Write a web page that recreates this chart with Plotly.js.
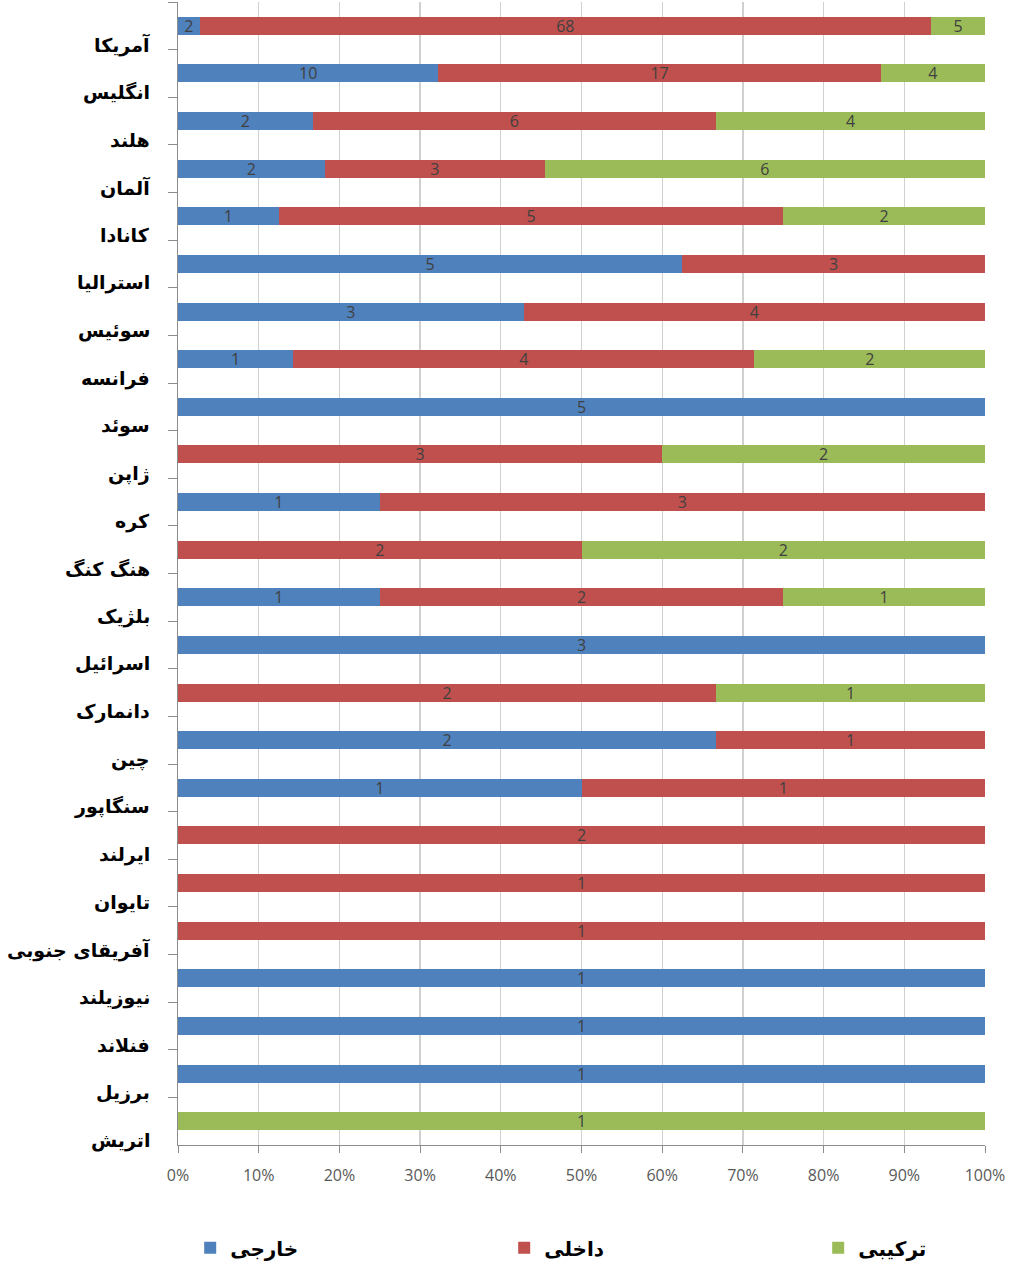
<!DOCTYPE html>
<html>
<head>
<meta charset="utf-8">
<script src="https://cdn.plot.ly/plotly-3.0.1.min.js"></script>
<style>html,body{margin:0;padding:0;background:#fff;}#chart{width:1019px;height:1266px;}</style>
</head>
<body>
<div id="chart"></div>
<script>
const countries = ["آمریکا","انگلیس","هلند","آلمان","کانادا","استرالیا","سوئیس","فرانسه","سوئد","ژاپن","کره","هنگ کنگ","بلژیک","اسرائیل","دانمارک","چین","سنگاپور","ایرلند","تایوان","آفریقای جنوبی","نیوزیلند","فنلاند","برزیل","اتریش"];
const foreign  = [2,10,2,2,1,5,3,1,5,0,1,0,1,3,0,2,1,0,0,0,1,1,1,0];
const domestic = [68,17,6,3,5,3,4,4,0,3,3,2,2,0,2,1,1,2,1,1,0,0,0,0];
const combined = [5,4,4,6,2,0,0,2,0,2,0,2,1,0,1,0,0,0,0,0,0,0,0,1];
const seriesNames = ["خارجی","داخلی","ترکیبی"];
const seriesColors = ["#4F81BD","#C0504D","#9BBB59"];
const xTickVals = [0,10,20,30,40,50,60,70,80,90,100];

const series = [foreign, domestic, combined];
const traces = series.map((vals, i) => ({
  type: 'bar',
  orientation: 'h',
  name: seriesNames[i],
  y: countries,
  x: vals,
  text: vals.map(v => v === 0 ? '' : String(v)),
  textposition: 'inside',
  insidetextanchor: 'middle',
  textangle: 0,
  constraintext: 'none',
  textfont: {family: 'Open Sans, Liberation Sans, sans-serif', size: 16, color: '#404040'},
  marker: {color: seriesColors[i], line: {width: 0}},
  hoverinfo: 'x+y+name'
}));

const annotations = countries.map(c => ({
  xref: 'paper', yref: 'y', x: -0.032, y: c, yshift: -19,
  xanchor: 'right', yanchor: 'middle', showarrow: false,
  text: '<b>' + c + '</b>',
  font: {family: 'DejaVu Sans, sans-serif', size: 19, color: '#000'}
}));

const layout = {
  width: 1019, height: 1266,
  margin: {l: 178, r: 34, t: 2, b: 121, autoexpand: false},
  paper_bgcolor: '#fff', plot_bgcolor: '#fff',
  barmode: 'stack', barnorm: 'percent', bargap: 0.62,
  showlegend: true,
  legend: {
    orientation: 'h', x: -0.001, y: -0.09, xanchor: 'left', yanchor: 'middle',
    traceorder: 'normal', entrywidth: 256, entrywidthmode: 'pixels',
    indentation: 13,
    font: {family: 'DejaVu Sans, sans-serif', size: 20, color: '#000', weight: 'bold'},
    itemwidth: 30
  },
  xaxis: {
    range: [0, 100], tickvals: xTickVals, ticktext: xTickVals.map(v => v + '%'),
    showgrid: true, gridcolor: '#d0d0d0', gridwidth: 1.3,
    showline: true, linecolor: '#8c8c8c', linewidth: 1.3,
    ticks: 'outside', ticklen: 7, tickcolor: '#8c8c8c',
    ticklabelstandoff: 8,
    tickfont: {family: 'Open Sans, Liberation Sans, sans-serif', size: 16, color: '#595959'},
    zeroline: false, fixedrange: true
  },
  yaxis: {
    type: 'category', range: [countries.length - 0.5, -0.5],
    showticklabels: false, tickson: 'boundaries',
    ticks: 'outside', ticklen: 9, tickcolor: '#8c8c8c',
    showline: true, linecolor: '#8c8c8c', linewidth: 1.3,
    showgrid: false, zeroline: false, fixedrange: true
  },
  annotations: annotations
};

Plotly.newPlot('chart', traces, layout, {displayModeBar: false, staticPlot: true});
</script>
</body>
</html>
